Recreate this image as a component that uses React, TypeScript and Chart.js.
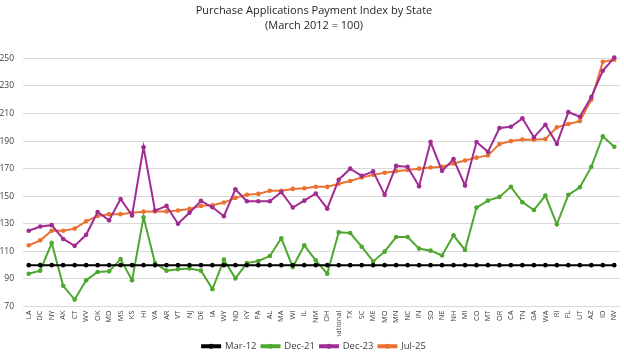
import React, { useEffect, useRef } from "react";
import { Chart, registerables } from "chart.js";

Chart.register(...registerables);

const categories = ["LA","DC","NY","AK","CT","WV","OK","MD","MS","KS","HI","VA","AR","VT","NJ","DE","IA","WY","ND","KY","PA","AL","MA","WI","IL","NM","OH","national","TX","SC","ME","MO","MN","NC","IN","SD","NE","NH","MI","CO","MT","OR","CA","TN","GA","WA","RI","FL","UT","AZ","ID","NV"];

const mar12 = categories.map(() => 100);

const dec21 = [93.8,96,116,85,75,89,95,95.5,104.4,89,134.7,101.5,96,97,97.6,96,82.6,104,90.4,101.5,103,106.6,119.5,98.6,114.4,103.5,93.8,123.8,123.3,113.4,102.7,109.8,120.4,120.4,112,110.5,107,121.6,111,141.8,146.8,149.5,156.8,145.6,140,150.5,129.6,151,156.5,171.3,193.4,185.9];

const dec23 = [125,128,129,119,114,122,138.6,132.5,148,136,185.6,139.6,143,130,138,146.6,142,135.5,155,146.4,146.4,146.4,153,141.8,146.8,152,141,162,170,164.8,168,151,172,171.3,157.3,189.3,168.4,176.9,157.8,189.3,182.2,199.5,200.4,206.5,192.7,201.9,188,211,207.7,222,241,250.6];

const jul25 = [114.4,118,125,125,126.5,131.8,135.7,137,137,138,138.8,139,139,139.6,140.8,143,143.5,145.4,148.8,151,151.7,154,154,155.3,155.8,156.8,156.8,159,161,163.6,165.5,167,168.2,169,170,170.8,171.3,173.8,175.9,178,179.6,187.8,190,191.2,191,191.5,200,202.4,204.5,220,247.5,249];

const yTicks = [70, 90, 110, 130, 150, 170, 190, 210, 230, 250];

const FONT = "'Open Sans', 'Noto Sans', sans-serif";

const legendDots = {
  id: "legendDots",
  afterDraw(chart: any) {
    const lg = chart.legend;
    if (!lg || !lg.legendHitBoxes) return;
    const ctx = chart.ctx;
    const bw = lg.options.labels.boxWidth;
    lg.legendHitBoxes.forEach((hb: any, i: number) => {
      const ds = chart.data.datasets[i];
      ctx.save();
      ctx.fillStyle = ds.borderColor;
      ctx.beginPath();
      ctx.arc(hb.left + bw / 2, hb.top + hb.height / 2, 2.5, 0, Math.PI * 2);
      ctx.fill();
      ctx.restore();
    });
  },
};

export default function App() {
  const ref = useRef<HTMLCanvasElement>(null);
  useEffect(() => {
    document.body.style.margin = "0";
    const mk = (label: string, data: number[], color: string) => ({
      label,
      data,
      borderColor: color,
      backgroundColor: color,
      borderWidth: 2,
      pointRadius: 2.3,
      pointBorderWidth: 0,
      pointBackgroundColor: color,
      tension: 0,
    });
    const chart = new Chart(ref.current!, {
      type: "line",
      data: {
        labels: categories,
        datasets: [
          mk("Mar-12", mar12, "#000000"),
          mk("Dec-21", dec21, "#4EA72E"),
          mk("Dec-23", dec23, "#A02B93"),
          mk("Jul-25", jul25, "#E97132"),
        ],
      },
      options: {
        animation: false,
        responsive: false,
        layout: { padding: { left: 0, right: -4, top: 2, bottom: -4 } },
        plugins: {
          title: {
            display: true,
            text: ["Purchase Applications Payment Index by State", "(March 2012 = 100)"],
            color: "#262626",
            font: { family: FONT, size: 11, weight: "normal", lineHeight: 1.3 },
            padding: { top: 2, bottom: 12 },
          },
          legend: {
            position: "bottom",
            labels: {
              boxWidth: 18,
              boxHeight: 2,
              color: "#404040",
              font: { family: FONT, size: 9.5 },
              padding: 5,
            },
          },
          tooltip: { enabled: false },
        },
        scales: {
          x: {
            offset: true,
            grid: { display: false, drawTicks: false },
            border: { display: false },
            afterFit: (scale: any) => {
              scale.height = 30;
              scale.paddingLeft = 0;
              scale.paddingRight = 0;
            },
            ticks: {
              autoSkip: false,
              maxRotation: 90,
              minRotation: 90,
              color: "#404040",
              font: { family: FONT, size: 7.5 },
              padding: 4,
            },
          },
          y: {
            min: 70,
            max: 260,
            afterBuildTicks: (axis: any) => {
              axis.ticks = yTicks.map((v) => ({ value: v }));
            },
            afterFit: (scale: any) => {
              scale.width = 23;
            },
            grid: { color: "#D9D9D9", lineWidth: 1, drawTicks: false },
            border: { display: false },
            ticks: {
              color: "#404040",
              font: { family: FONT, size: 8.5 },
              padding: 9,
            },
          },
        },
      },
      plugins: [legendDots],
    });
    return () => chart.destroy();
  }, []);
  return <canvas ref={ref} width={624} height={357} />;
}
